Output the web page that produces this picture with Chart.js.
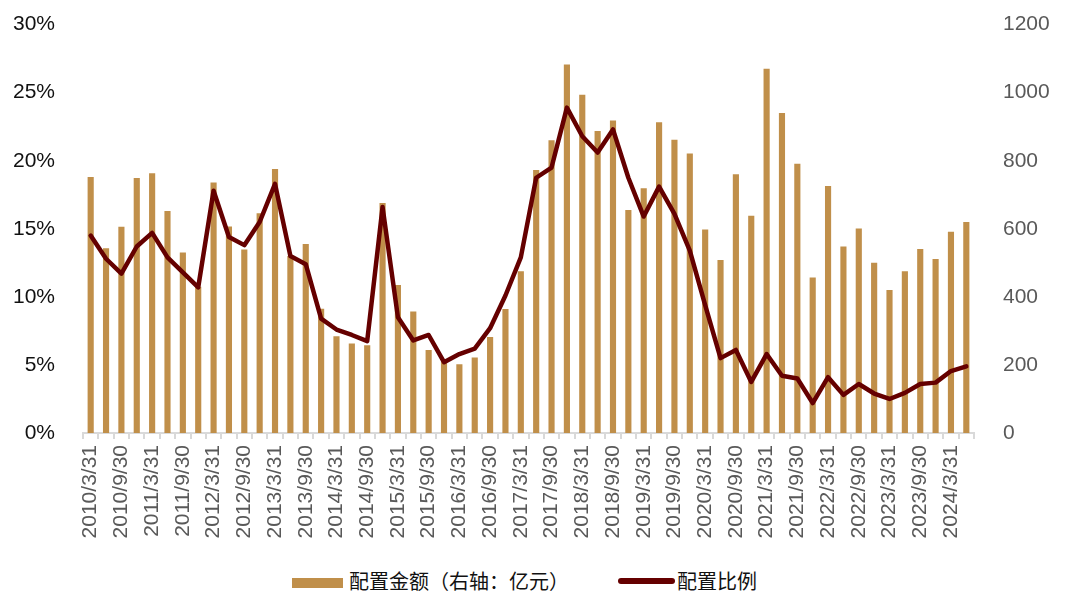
<!DOCTYPE html>
<html>
<head>
<meta charset="utf-8">
<script src="https://cdn.jsdelivr.net/npm/chart.js@4/dist/chart.umd.min.js"></script>
<style>
  body { margin: 0; background: #fff; }
  #wrap { position: relative; width: 1080px; height: 602px; overflow: hidden; }
  #grafico { position: absolute; left: 0; top: -9px; }
  .leg { position: absolute; top: 568px; font-family: "Noto Sans CJK SC", sans-serif; font-size: 20px; color: #111; line-height: 26px; }
  .sw { position: absolute; }
</style>
</head>
<body>
<div id="wrap">
  <canvas id="grafico" width="1080" height="569"></canvas>
  <div class="sw" style="left:292px;top:578px;width:51px;height:10px;background:#C08F4A"></div>
  <div class="leg" style="left:349px">配置金额（右轴：亿元）</div>
  <div class="sw" style="left:618px;top:578px;width:57px;height:6px;border-radius:3px;background:#650000"></div>
  <div class="leg" style="left:677px">配置比例</div>
</div>
<script>
// trimestres 2010Q1 .. 2024Q2
var datas = [];
for (var ano = 2010; ano <= 2024; ano++) {
    ["3/31", "6/30", "9/30", "12/31"].forEach(function (d) { datas.push(ano + "/" + d); });
}
datas = datas.slice(0, 58);

// 配置金额（亿元）
var valores = [752, 543, 606, 749, 763, 652, 530, 430, 736, 607, 539, 646, 776, 520, 555, 365,
    284, 263, 258, 676, 435, 357, 244, 215, 202, 222, 282, 364, 475, 773, 860, 1083,
    994, 887, 918, 655, 719, 913, 862, 821, 598, 508, 760, 638, 1070, 940, 791, 457,
    726, 548, 601, 500, 420, 475, 541, 511, 591, 620];

// 配置比例（%）
var proporcao = [14.5, 12.8, 11.7, 13.7, 14.7, 12.9, 11.8, 10.7, 17.8, 14.4, 13.8, 15.5, 18.3, 13.0, 12.4, 8.4,
    7.6, 7.2, 6.75, 16.6, 8.5, 6.8, 7.2, 5.2, 5.8, 6.2, 7.7, 10.1, 12.9, 18.75, 19.5, 23.9,
    21.8, 20.6, 22.3, 18.75, 15.9, 18.1, 16.1, 13.4, 9.4, 5.5, 6.1, 3.75, 5.8, 4.2, 4.0, 2.2,
    4.1, 2.8, 3.6, 2.9, 2.5, 2.95, 3.6, 3.7, 4.55, 4.9];

var fonte = { family: "'Liberation Sans', Arial, sans-serif", size: 21 };

new Chart(grafico.getContext("2d"), {
    data: {
        labels: datas,
        datasets: [{
            type: "line",
            label: "配置比例",
            data: proporcao,
            yAxisID: "y",
            borderColor: "#650000",
            borderWidth: 4.5,
            pointRadius: 0,
            tension: 0,
            borderJoinStyle: "round",
            borderCapStyle: "round",
            order: 0
        }, {
            type: "bar",
            label: "配置金额（右轴：亿元）",
            data: valores,
            yAxisID: "y1",
            backgroundColor: "#C08F4A",
            barPercentage: 0.4,
            categoryPercentage: 1,
            order: 1
        }]
    },
    options: {
        responsive: false,
        animation: false,
        layout: { padding: { top: 14, left: 0, right: 0, bottom: 0 } },
        scales: {
            x: {
                offset: true,
                grid: { display: true, drawOnChartArea: false, offset: true, color: "#d9d9d9", lineWidth: 2, tickLength: 6 },
                border: { display: true, color: "#d9d9d9", width: 2 },
                ticks: {
                    autoSkip: false, maxRotation: 90, minRotation: 90, padding: 6,
                    color: "#595959", font: fonte,
                    callback: function (v, i) { return i % 2 === 0 ? datas[i] : ""; }
                },
                afterFit: function (s) { s.height = 127; }
            },
            y: {
                position: "left", min: 0, max: 30,
                grid: { display: false },
                border: { display: false },
                ticks: { stepSize: 5, padding: 20, color: "#111", font: fonte, callback: function (v) { return v + "%"; } },
                afterFit: function (s) { s.width = 83; }
            },
            y1: {
                position: "right", min: 0, max: 1200,
                grid: { display: false },
                border: { display: false },
                ticks: { stepSize: 200, padding: 21, color: "#595959", font: fonte, callback: function (v) { return String(v); } },
                afterFit: function (s) { s.width = 106; }
            }
        },
        plugins: {
            legend: { display: false },
            tooltip: { enabled: false }
        }
    }
});
</script>
</body>
</html>
